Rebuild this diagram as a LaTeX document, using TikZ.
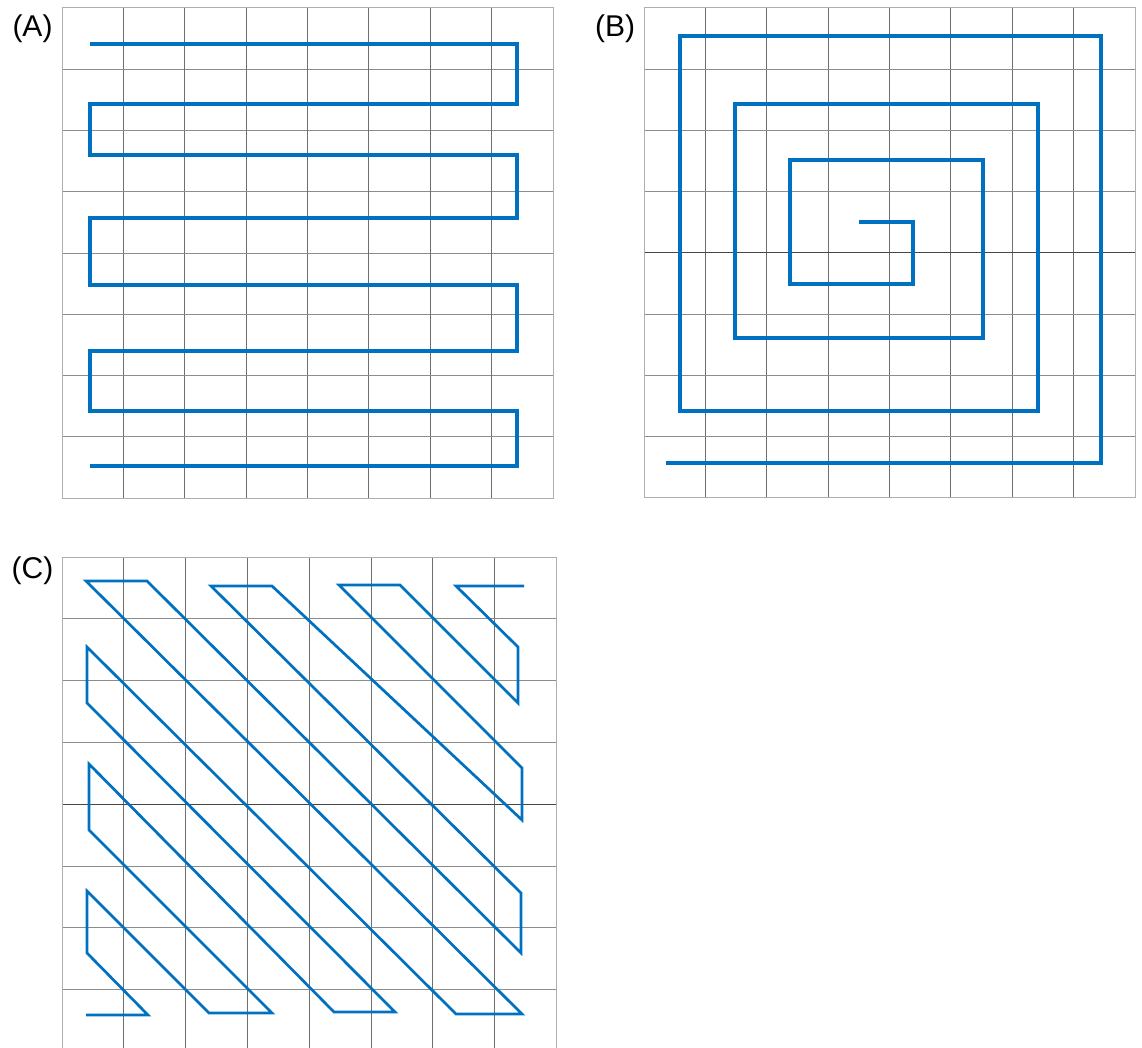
\documentclass[tikz,border=0pt]{standalone}
\usepackage{fontspec}
\setmainfont{Liberation Sans}
\definecolor{traceblue}{RGB}{0,112,192}
\definecolor{vgrid}{RGB}{110,110,110}
\definecolor{hgrid}{RGB}{140,140,140}
\definecolor{bgrid}{RGB}{175,175,175}
\definecolor{mgrid}{RGB}{70,70,70}
\begin{document}
\begin{tikzpicture}[x=1pt,y=-1pt,
  trace/.style={draw=traceblue, line width=3.2pt, line join=miter},
  tracethin/.style={draw=traceblue, line width=2.7pt, line join=miter},
  vline/.style={draw=vgrid, line width=0.9pt},
  hline/.style={draw=hgrid, line width=0.9pt},
  midline/.style={draw=mgrid, line width=1pt},
  border/.style={draw=bgrid, line width=1pt},
  panellabel/.style={inner sep=0pt, font=\fontsize{30}{30}\selectfont}]
\useasboundingbox (0,0) rectangle (1142,1048);
\fill[white] (0,0) rectangle (1142,1048);

% ---------- Panel A grid ----------
\foreach \i in {1,...,7} {
  \draw[vline] ({62+\i*61.375},8) -- ({62+\i*61.375},498);
  \draw[hline] (62,{8+\i*61.25}) -- (553,{8+\i*61.25});
}
\draw[border] (62,8) rectangle (553,498);

% ---------- Panel B grid ----------
\foreach \i in {1,...,7} {
  \draw[vline] ({644+\i*61.375},8) -- ({644+\i*61.375},497.5);
}
\foreach \i in {1,2,3,5,6,7} {
  \draw[hline] (644,{8+\i*61.19}) -- (1135,{8+\i*61.19});
}
\draw[midline] (644,{8+4*61.19}) -- (1135,{8+4*61.19});
\draw[border] (644,8) rectangle (1135,497.5);

% ---------- Panel C grid ----------
\begin{scope}
\clip (0,540) rectangle (1142,1048);
\foreach \i in {1,...,7} {
  \draw[vline] ({62+\i*61.81},557) -- ({62+\i*61.81},1052);
}
\foreach \i in {1,2,3,5,6,7} {
  \draw[hline] (62,{557+\i*61.81}) -- (556.5,{557+\i*61.81});
}
\draw[midline] (62,{557+4*61.81}) -- (556.5,{557+4*61.81});
\draw[border] (62,557) rectangle (556.5,1051.5);
\end{scope}

% ---------- Panel A trace ----------
\draw[trace] (90,44) -- (517,44) -- (517,104) -- (90,104) -- (90,155) -- (517,155)
  -- (517,218) -- (90,218) -- (90,285) -- (517,285) -- (517,351) -- (90,351)
  -- (90,411) -- (517,411) -- (517,466) -- (90,466);

% ---------- Panel B trace ----------
\draw[trace] (666,463) -- (1101,463) -- (1101,36) -- (680,36) -- (680,411)
  -- (1038,411) -- (1038,104) -- (735,104) -- (735,338) -- (983,338)
  -- (983,160) -- (790,160) -- (790,284) -- (913,284) -- (913,222) -- (859,222);

% ---------- Panel C trace ----------
\draw[tracethin] (86,1015) -- (148,1015) -- (87,953) -- (87,891) -- (209,1013)
  -- (272,1013) -- (89,830) -- (89,764) -- (334,1012) -- (395,1012)
  -- (87,703) -- (87,647) -- (456,1014) -- (522,1014) -- (86,581)
  -- (147,581) -- (521,953) -- (521,893) -- (211,586) -- (272,586)
  -- (522,820) -- (522,768) -- (339,585) -- (400,585) -- (518,703)
  -- (518,647) -- (456,586) -- (524,586);

% ---------- Labels ----------
\node[panellabel] (labA) at (32.5,28.5) {(A)};
\node[panellabel] (labB) at (615,28.5) {(B)};
\node[panellabel] (labC) at (32.5,571) {(C)};
\end{tikzpicture}
\end{document}
